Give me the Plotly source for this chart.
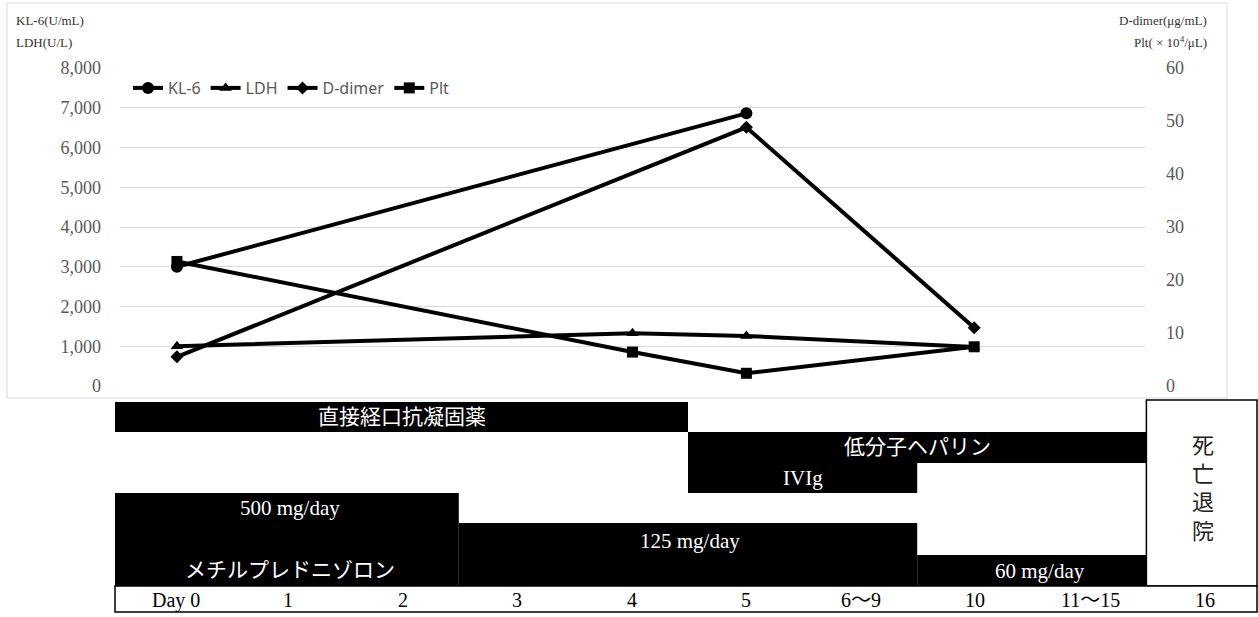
import plotly.graph_objects as go

# ---------------- data ----------------
categories = ["Day 0", "1", "2", "3", "4", "5", "6〜9", "10", "11〜15"]
day_labels = categories + ["16"]

kl6_x = ["Day 0", "5"]
kl6 = [3000, 6860]
ldh_x = ["Day 0", "4", "5", "10"]
ldh = [1000, 1330, 1260, 980]
dd_x = ["Day 0", "5", "10"]
ddimer = [5.5, 48.8, 11.0]
plt_x = ["Day 0", "4", "5", "10"]
plt_v = [23.5, 6.4, 2.4, 7.4]

left_ticks = list(range(0, 8001, 1000))
right_ticks = list(range(0, 61, 10))

# treatments: label, first day-column, last day-column (inclusive)
treat_names = ["直接経口抗凝固薬", "低分子ヘパリン", "IVIg",
               "500 mg/day", "125 mg/day", "60 mg/day"]
treat_start = [0, 5, 5, 0, 3, 7]
treat_end = [4, 8, 6, 2, 6, 8]
drug_name = "メチルプレドニゾロン"
outcome = "死亡退院"

# ---------------- layout helpers ----------------
W, H = 1258, 617
PL, PR, PT, PB = 120, 1145, 68, 386


def px(xp):
    return (xp - PL) / (PR - PL)


def py(yp):
    return (PB - yp) / (PB - PT)


COL0, COLW = 115, 114.6


def colx(i):
    return COL0 + i * COLW


# row geometry (pixel tops/bottoms) for each treatment bar
treat_rows = [(402, 432), (432, 463), (463, 493), (493, 586), (523, 586), (555, 586)]
treat_text_y = [417, 447, 478, 508, 541, 571]
treat_text_x = [None, None, None, 290, 690, 1040]

serif = "Liberation Serif, Noto Sans CJK JP, serif"
tick_font = dict(family="Liberation Serif, serif", size=18, color="#595959")

fig = go.Figure()
line_w = 4
fig.add_trace(go.Scatter(x=kl6_x, y=kl6, name="KL-6", mode="lines+markers",
                         line=dict(color="black", width=line_w),
                         marker=dict(symbol="circle", size=12, color="black")))
fig.add_trace(go.Scatter(x=ldh_x, y=ldh, name="LDH", mode="lines+markers",
                         line=dict(color="black", width=line_w),
                         marker=dict(symbol="triangle-up", size=11, color="black")))
fig.add_trace(go.Scatter(x=dd_x, y=ddimer, name="D-dimer", mode="lines+markers", yaxis="y2",
                         line=dict(color="black", width=line_w),
                         marker=dict(symbol="diamond", size=10, color="black")))
fig.add_trace(go.Scatter(x=plt_x, y=plt_v, name="Plt", mode="lines+markers", yaxis="y2",
                         line=dict(color="black", width=line_w),
                         marker=dict(symbol="square", size=11, color="black")))

shapes = []
annotations = []

# outer chart border
shapes.append(dict(type="rect", xref="paper", yref="paper",
                   x0=px(7), x1=px(1227), y0=py(3), y1=py(398),
                   line=dict(color="#d9d9d9", width=1), fillcolor="rgba(0,0,0,0)", layer="below"))

# treatment bars
for name, s, e, (t, b), ty, tx in zip(treat_names, treat_start, treat_end, treat_rows,
                                      treat_text_y, treat_text_x):
    x0, x1 = colx(s), colx(e + 1)
    shapes.append(dict(type="rect", xref="paper", yref="paper",
                       x0=px(x0), x1=px(x1), y0=py(b), y1=py(t),
                       line=dict(width=0), fillcolor="black"))
    cx = tx if tx is not None else (x0 + x1) / 2
    annotations.append(dict(text=name, xref="paper", yref="paper", x=px(cx), y=py(ty),
                            showarrow=False, xanchor="center", yanchor="middle",
                            font=dict(family=serif, size=21, color="white")))

annotations.append(dict(text=drug_name, xref="paper", yref="paper", x=px(290), y=py(570),
                        showarrow=False, xanchor="center", yanchor="middle",
                        font=dict(family=serif, size=21, color="white")))

# outcome box
shapes.append(dict(type="rect", xref="paper", yref="paper",
                   x0=px(colx(9)), x1=px(1257), y0=py(586), y1=py(400),
                   line=dict(color="black", width=1.5), fillcolor="white"))
annotations.append(dict(text="<br>".join(list(outcome)), xref="paper", yref="paper",
                        x=px(1203), y=py(488), showarrow=False, xanchor="center",
                        yanchor="middle", font=dict(family=serif, size=22, color="#222")))

# day label row
shapes.append(dict(type="rect", xref="paper", yref="paper",
                   x0=px(COL0), x1=px(1257), y0=py(612), y1=py(586),
                   line=dict(color="black", width=1.5), fillcolor="white"))
for i, lab in enumerate(day_labels):
    cx = colx(i) + COLW / 2 + (4 if i == 0 else 1)
    annotations.append(dict(text=lab, xref="paper", yref="paper", x=px(cx), y=py(600),
                            showarrow=False, xanchor="center", yanchor="middle",
                            font=dict(family=serif, size=20, color="black")))

# axis titles
title_font = dict(family=serif, size=13, color="#333333")
annotations.append(dict(text="KL-6(U/mL)", xref="paper", yref="paper", x=px(14), y=py(20),
                        showarrow=False, xanchor="left", yanchor="middle", font=title_font))
annotations.append(dict(text="LDH(U/L)", xref="paper", yref="paper", x=px(14), y=py(42),
                        showarrow=False, xanchor="left", yanchor="middle", font=title_font))
annotations.append(dict(text="D-dimer(μg/mL)", xref="paper", yref="paper", x=px(1209), y=py(20),
                        showarrow=False, xanchor="right", yanchor="middle", font=title_font))
annotations.append(dict(text="Plt( × 10<sup>4</sup>/μL)", xref="paper", yref="paper", x=px(1209),
                        y=py(42), showarrow=False, xanchor="right", yanchor="middle",
                        font=title_font))

fig.update_layout(
    width=W, height=H,
    margin=dict(l=PL, r=W - PR, t=PT, b=H - PB),
    paper_bgcolor="white", plot_bgcolor="white",
    xaxis=dict(type="category", categoryorder="array", categoryarray=categories,
               range=[-0.5, len(categories) - 0.5], showticklabels=False,
               showgrid=False, zeroline=False, showline=False, ticks=""),
    yaxis=dict(range=[0, 8000], tickvals=left_ticks, tickformat=",", showgrid=True,
               gridcolor="#d9d9d9", gridwidth=1, zeroline=False, showline=False,
               tickfont=tick_font, ticklabelstandoff=18),
    yaxis2=dict(range=[0, 60], tickvals=right_ticks, overlaying="y", side="right",
                showgrid=False, zeroline=False, showline=False, tickfont=tick_font,
                ticklabelstandoff=20),
    legend=dict(orientation="h", x=px(128), y=py(88), xanchor="left", yanchor="middle",
                font=dict(family="Noto Sans, sans-serif", size=16, color="#595959"),
                bgcolor="rgba(0,0,0,0)", itemwidth=30, tracegroupgap=0),
    shapes=shapes,
    annotations=annotations,
    showlegend=True,
)

fig.write_html("out.html", config={"displayModeBar": False},
               post_script="document.body.style.margin='0';document.body.style.padding='0';")
